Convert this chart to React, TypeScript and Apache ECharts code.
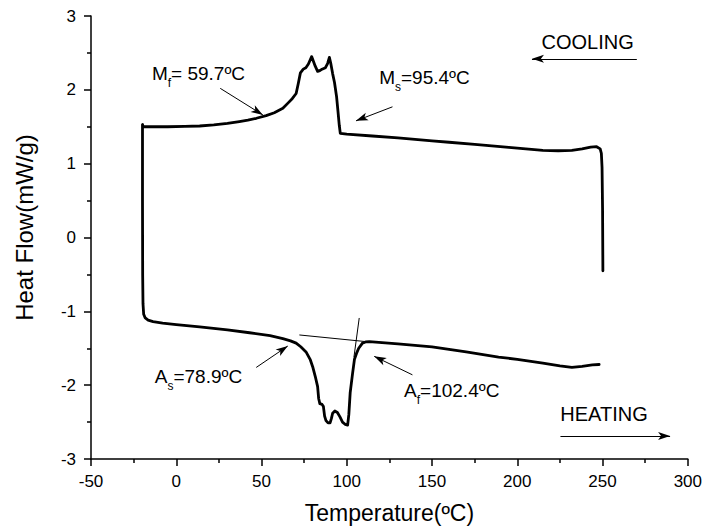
import React, { useEffect, useRef } from "react";
import * as echarts from "echarts";

const FONT = '"Liberation Sans", Arial, Helvetica, sans-serif';

// Cooling run, read from 250 °C down to -20 °C (exotherm between 60 and 96 °C)
const coolingTemp = [
  250.2, 250.0, 249.7, 249.3, 248.6, 246.5, 243, 238, 232, 224, 215, 205, 195,
  185, 175, 160, 150, 140, 130, 115, 100, 96.2, 95.6, 94.8, 94.0, 92.8, 91.7,
  90.6, 89.8, 88.8, 87.5, 85.5, 84.2, 82.9, 81.5, 79.4, 77.5, 76.0, 74.5, 72.8,
  71.5, 70.3, 68.0, 65.5, 62.5, 57.5, 52.7, 47, 42, 37, 30, 22, 13.7, 5, -5,
  -15, -19.4,
];
const coolingFlow = [
  -0.45, 0.4, 0.95, 1.14, 1.2, 1.23, 1.225, 1.2, 1.18, 1.175, 1.18, 1.2, 1.22,
  1.24, 1.26, 1.29, 1.31, 1.33, 1.35, 1.375, 1.4, 1.41, 1.52, 1.72, 1.91, 2.1,
  2.22, 2.36, 2.44, 2.36, 2.3, 2.28, 2.26, 2.25, 2.32, 2.45, 2.35, 2.3, 2.28,
  2.23, 2.08, 1.95, 1.88, 1.82, 1.75, 1.69, 1.65, 1.615, 1.59, 1.57, 1.545,
  1.525, 1.51, 1.505, 1.5, 1.5, 1.5,
];

// Heating run, read from -20 °C up to 250 °C (endotherm between 79 and 102 °C)
const heatingTemp = [
  -19.8, -19.8, -19.7, -19.5, -19.1, -18.2, -16.5, -13.6, -8, 0, 13.7, 30, 43,
  55, 62.5, 67, 70.3, 73, 76.1, 78.5, 80, 81.5, 82.9, 83.5, 84.2, 85.5, 86.3,
  87.0, 87.8, 89.0, 90.2, 91.0, 91.7, 93.0, 94.5, 96.0, 97.5, 99.0, 100.5,
  101.2, 102.0, 103.4, 104.5, 105.7, 107.0, 109.2, 111.0, 113.2, 130, 150, 170,
  189, 200, 215, 225, 232, 238, 244, 248,
];
const heatingFlow = [
  1.53, 0.5, -0.5, -0.9, -1.04, -1.09, -1.12, -1.14, -1.16, -1.18, -1.21,
  -1.25, -1.29, -1.33, -1.37, -1.4, -1.43, -1.48, -1.55, -1.65, -1.75, -1.88,
  -2.02, -2.18, -2.25, -2.26, -2.29, -2.42, -2.48, -2.51, -2.51, -2.45, -2.38,
  -2.35, -2.37, -2.43, -2.5, -2.53, -2.54, -2.4, -2.1, -1.84, -1.65, -1.57,
  -1.5, -1.43, -1.415, -1.41, -1.44, -1.48, -1.55, -1.62, -1.65, -1.7, -1.74,
  -1.76, -1.745, -1.725, -1.72,
];

// Axis ranges
const xMin = -50;
const xMax = 300;
const xStep = 50;
const yMin = -3;
const yMax = 3;
const yStep = 1;

// Transformation temperatures marked on the trace
const labelTexts = [
  "{b|M}{s|f}{b|= 59.7ºC}",
  "{b|M}{s|s}{b|=95.4ºC}",
  "{b|A}{s|s}{b|=78.9ºC}",
  "{b|A}{s|f}{b|=102.4ºC}",
  "COOLING",
  "HEATING",
];
// Upper-left corner of each label, in (°C, mW/g)
const labelAnchors: number[][] = [
  [-14.3, 2.35],
  [119, 2.3],
  [-12.6, -1.75],
  [133.6, -1.95],
  [214.2, 2.79],
  [225.2, -2.26],
];

// Arrows from label to trace, plus the two direction arrows
const arrowFrom: number[][] = [
  [25.8, 2.02],
  [126.8, 1.77],
  [46.9, -1.76],
  [138.5, -1.86],
  [270.1, 2.42],
  [225.3, -2.69],
];
const arrowTo: number[][] = [
  [50.8, 1.66],
  [105.4, 1.58],
  [65.4, -1.47],
  [116.1, -1.61],
  [208.6, 2.42],
  [289.6, -2.69],
];

// Tangent construction used for the A_f onset
const tangentFrom: number[][] = [
  [72.2, -1.32],
  [107.3, -1.09],
];
const tangentTo: number[][] = [
  [111.2, -1.41],
  [104.2, -1.62],
];

export default function App() {
  const ref = useRef<HTMLDivElement>(null);

  useEffect(() => {
    document.body.style.margin = "0";
    if (!ref.current) return;
    const chart = echarts.init(ref.current, undefined, { renderer: "svg" });

    const trace: number[][] = [];
    coolingTemp.forEach((t, i) => trace.push([t, coolingFlow[i]]));
    heatingTemp.forEach((t, i) => trace.push([t, heatingFlow[i]]));

    const arrowLines = arrowFrom.map((p, i) => [
      { coord: p, symbol: "none" },
      { coord: arrowTo[i], symbol: "arrow", symbolSize: [6, 12] },
    ]);
    const tangentLines = tangentFrom.map((p, i) => [
      { coord: p, symbol: "none" },
      { coord: tangentTo[i], symbol: "none" },
    ]);

    const axisText = { color: "#000", fontFamily: FONT };

    chart.setOption({
      animation: false,
      backgroundColor: "#fff",
      grid: { left: 91, right: 15.5, top: 16, bottom: 70 },
      xAxis: {
        type: "value",
        min: xMin,
        max: xMax,
        interval: xStep,
        name: "Temperature(ºC)",
        nameLocation: "middle",
        nameGap: 42,
        nameTextStyle: { ...axisText, fontSize: 23 },
        axisLine: { show: true, onZero: false, lineStyle: { color: "#000", width: 1.5 } },
        axisTick: { show: true, inside: false, length: 7, lineStyle: { color: "#000", width: 1.5 } },
        minorTick: { show: true, splitNumber: 2, length: 4, lineStyle: { color: "#000", width: 1.5 } },
        axisLabel: { ...axisText, fontSize: 17, margin: 14 },
        splitLine: { show: false },
        minorSplitLine: { show: false },
      },
      yAxis: {
        type: "value",
        min: yMin,
        max: yMax,
        interval: yStep,
        name: "Heat Flow(mW/g)",
        nameLocation: "middle",
        nameGap: 55,
        nameTextStyle: { ...axisText, fontSize: 24, padding: [0, 0, 0, 20] },
        axisLine: { show: true, onZero: false, lineStyle: { color: "#000", width: 1.5 } },
        axisTick: { show: true, inside: false, length: 7, lineStyle: { color: "#000", width: 1.5 } },
        minorTick: { show: true, splitNumber: 2, length: 4, lineStyle: { color: "#000", width: 1.5 } },
        axisLabel: { ...axisText, fontSize: 17, margin: 15 },
        splitLine: { show: false },
        minorSplitLine: { show: false },
      },
      series: [
        {
          type: "line",
          data: trace,
          showSymbol: false,
          symbol: "none",
          lineStyle: { color: "#000", width: 2.8, join: "round", cap: "round" },
          silent: true,
        },
        {
          type: "line",
          data: [],
          silent: true,
          markLine: {
            silent: true,
            animation: false,
            label: { show: false },
            lineStyle: { color: "#000", width: 1, type: "solid" },
            emphasis: { disabled: true },
            data: [...arrowLines, ...tangentLines],
          },
        },
      ],
    });

    // Subscripts: both tokens hang from the line top, the small one pushed down by its padding
    const rich = {
      b: { fontSize: 19, fontFamily: FONT, fill: "#000", verticalAlign: "top", lineHeight: 22 },
      s: {
        fontSize: 12,
        fontFamily: FONT,
        fill: "#000",
        verticalAlign: "top",
        lineHeight: 12,
        padding: [13, 0, 0, 0],
      },
    };

    const graphics = labelTexts.map((txt, i) => {
      const [px, py] = chart.convertToPixel({ xAxisIndex: 0, yAxisIndex: 0 }, labelAnchors[i]) as number[];
      const plain = i >= 4;
      return {
        type: "text",
        x: px,
        y: py,
        silent: true,
        style: plain
          ? { text: txt, fontSize: 20, fontFamily: FONT, fill: "#000", align: "left", verticalAlign: "top" }
          : { text: txt, rich, fill: "#000", align: "left", verticalAlign: "top" },
      };
    });
    chart.setOption({ graphic: graphics });

    return () => chart.dispose();
  }, []);

  return <div ref={ref} style={{ width: 705, height: 529 }} />;
}
